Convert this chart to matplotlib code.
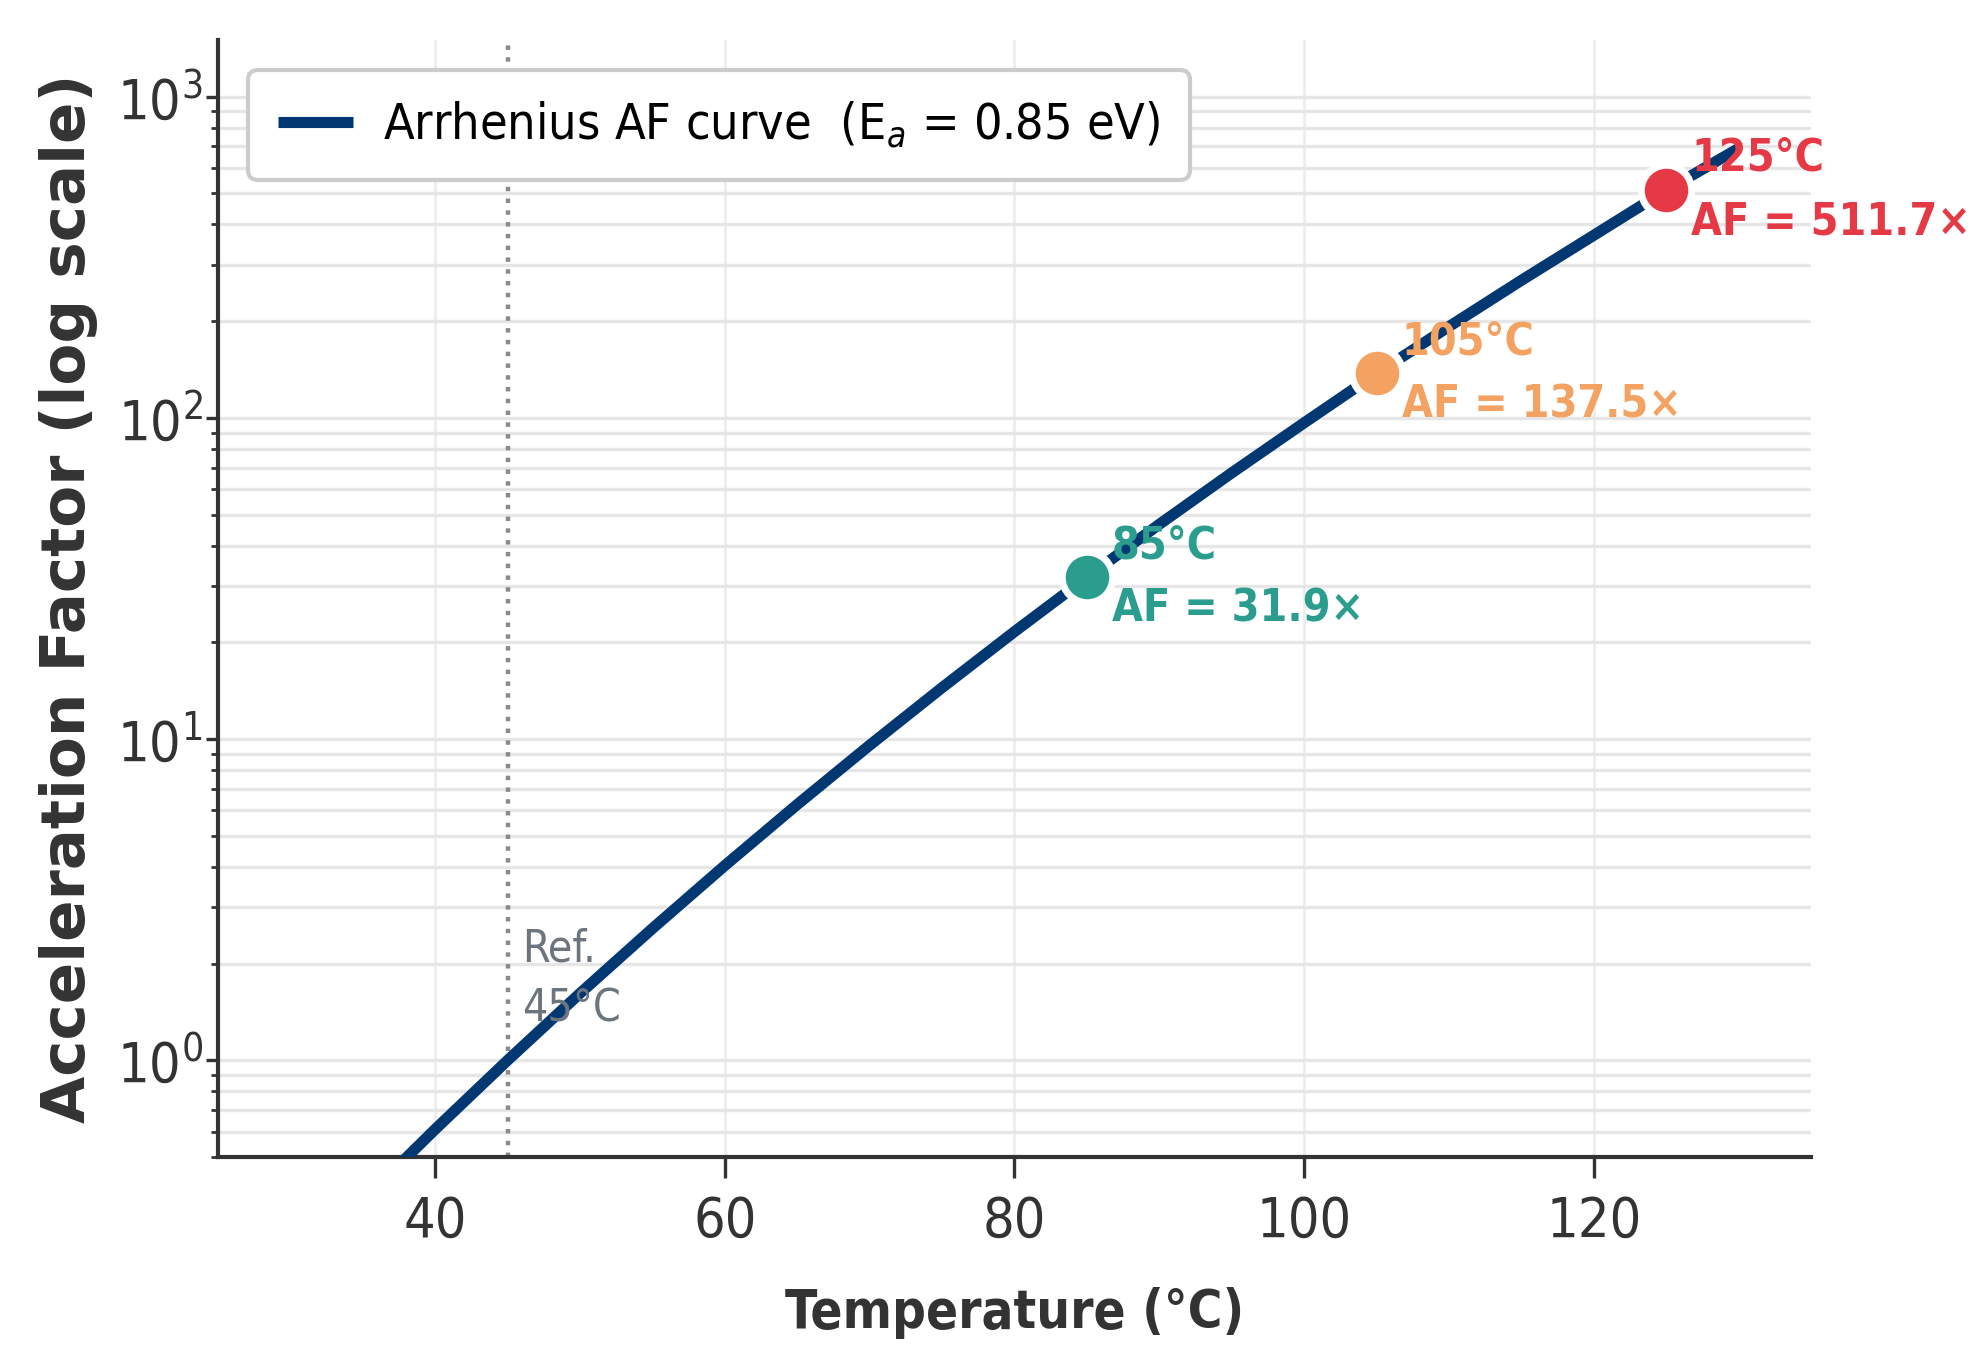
import matplotlib
matplotlib.use('Agg')
import matplotlib.pyplot as plt
from matplotlib.ticker import LogLocator, NullFormatter

# curve (temperature in C, acceleration factor)
temps = [35, 40, 45, 50, 55, 60, 65, 70, 75, 80, 85, 90, 95, 100, 105, 110, 115, 120, 125, 130]
af_curve = [0.366, 0.610, 1.0, 1.616, 2.572, 4.039, 6.257, 9.571, 14.46, 21.60, 31.9,
            46.63, 67.41, 96.51, 137.5, 192.4, 268.0, 370.2, 511.7, 690.0]

# highlighted stress temperatures
point_temps = [85, 105, 125]
point_af = [31.9, 137.5, 511.7]
point_colors = ['#2a9d8f', '#f4a261', '#e63946']

ref_temp = 45
line_color = '#023872'

plt.rcParams['font.family'] = ['DejaVu Sans']
plt.rcParams['font.stretch'] = 'condensed'

fig = plt.figure(figsize=(9.86, 6.745), dpi=200)
ax = fig.add_axes([0.1105, 0.1423, 0.8079, 0.828])

ax.plot(temps, af_curve, color=line_color, lw=4, solid_capstyle='butt',
        label='Arrhenius AF curve  (E$_a$ = 0.85 eV)', zorder=3)

for t, af, c in zip(point_temps, point_af, point_colors):
    ax.scatter([t], [af], s=330, color=c, edgecolor='white', linewidth=2.5, zorder=5)
    ax.annotate(f'{t}°C\nAF = {af}×', xy=(t, af), xytext=(9, 0),
                textcoords='offset points', ha='left', va='center',
                fontsize=16, fontweight='bold', color=c, linespacing=1.6, zorder=6)

ax.axvline(ref_temp, color='#8a8a8a', ls=':', lw=1.6, zorder=2)
ax.text(ref_temp + 1.0, 2.6, 'Ref.\n45°C', color='#6c757d', fontsize=16,
        ha='left', va='top', linespacing=1.5, zorder=4)

ax.set_yscale('log')
ax.set_xlim(25, 135)
ax.set_ylim(0.5, 1500)
ax.set_xticks([40, 60, 80, 100, 120])
ax.yaxis.set_major_locator(LogLocator(base=10))
ax.yaxis.set_minor_locator(LogLocator(base=10, subs=range(2, 10)))
ax.yaxis.set_minor_formatter(NullFormatter())

ax.grid(True, axis='x', which='major', color='#ececec', lw=0.9)
ax.grid(True, axis='y', which='both', color='#e6e6e6', lw=1.2)
ax.set_axisbelow(True)

for s in ['top', 'right']:
    ax.spines[s].set_visible(False)
for s in ['left', 'bottom']:
    ax.spines[s].set_color('#333333')
    ax.spines[s].set_linewidth(1.5)

ax.tick_params(axis='x', which='major', length=7.5, width=1.2, pad=6,
               labelsize=20, colors='#333333')
ax.tick_params(axis='y', which='major', length=4.5, width=1.2, pad=1,
               labelsize=20, colors='#333333')
ax.tick_params(axis='y', which='minor', length=2.5, width=1.0, colors='#333333')

ax.set_xlabel('Temperature (°C)', fontsize=19, fontweight='bold', color='#333333', labelpad=14)
ax.set_ylabel('Acceleration Factor (log scale)', fontsize=22, fontweight='bold',
              color='#333333', fontstretch='normal')
ax.yaxis.set_label_coords(-0.075, 0.5)

leg = ax.legend(loc='upper left', fontsize=18, handlelength=1.5, handletextpad=0.6,
                borderaxespad=0.6, borderpad=0.6, fancybox=True, framealpha=1.0,
                edgecolor='#cccccc')
leg.get_frame().set_linewidth(1.5)

fig.savefig('out.png', dpi=200)
